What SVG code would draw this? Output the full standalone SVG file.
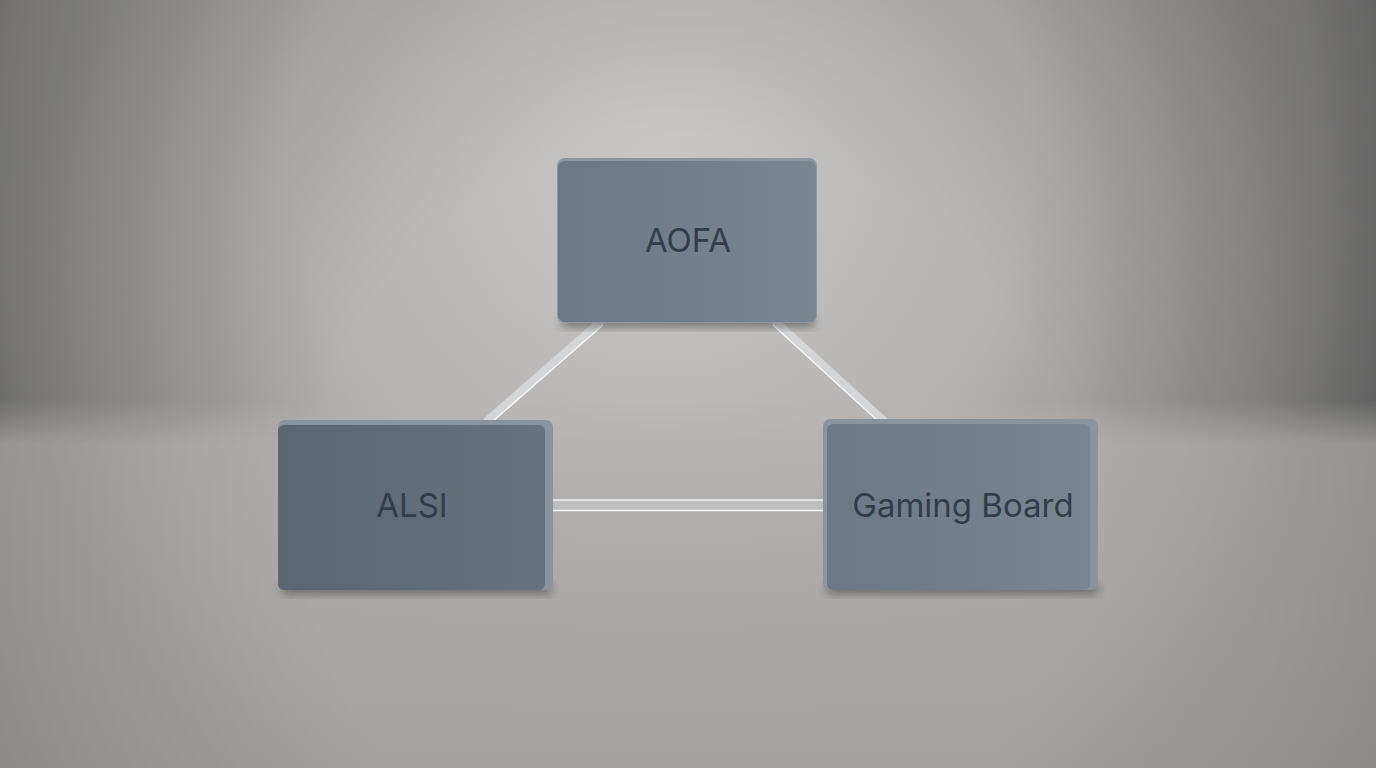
<svg xmlns="http://www.w3.org/2000/svg" width="1376" height="768" viewBox="0 0 1376 768">
<defs>
<radialGradient id="bg" cx="660" cy="160" r="820" gradientUnits="userSpaceOnUse">
<stop offset="0" stop-color="#c9c8c6"/>
<stop offset="0.45" stop-color="#b4b3b1"/>
<stop offset="0.8" stop-color="#8a8988"/>
<stop offset="1" stop-color="#5e5e5e"/>
</radialGradient>
<linearGradient id="floor" x1="0" y1="400" x2="0" y2="768" gradientUnits="userSpaceOnUse">
<stop offset="0" stop-color="#b5b4b2" stop-opacity="0.0"/>
<stop offset="0.12" stop-color="#b3b2b0" stop-opacity="0.85"/>
<stop offset="1" stop-color="#a3a2a0" stop-opacity="1"/>
</linearGradient>
<radialGradient id="floorside" cx="688" cy="520" r="760" gradientUnits="userSpaceOnUse">
<stop offset="0.5" stop-color="#000" stop-opacity="0"/>
<stop offset="1" stop-color="#000" stop-opacity="0.15"/>
</radialGradient>
<linearGradient id="faceD" x1="0" y1="0" x2="1" y2="0">
<stop offset="0" stop-color="#5c6671"/>
<stop offset="1" stop-color="#68727d"/>
</linearGradient>
<linearGradient id="faceR" x1="0" y1="0" x2="1" y2="0">
<stop offset="0" stop-color="#6d7884"/>
<stop offset="1" stop-color="#7b8590"/>
</linearGradient>
<filter id="shadow" x="-20%" y="-50%" width="140%" height="200%">
<feGaussianBlur stdDeviation="5"/>
</filter>
<style>
.lbl{font-family:"Inter","Liberation Sans",sans-serif;font-size:33px;font-weight:400;fill:#333c47;text-anchor:middle;dominant-baseline:central}
.tube{stroke:#d6d8da;stroke-width:8;stroke-linecap:round;fill:none;opacity:0.9}
.tubehl{stroke:#f4f6f7;stroke-width:1.5;fill:none}
.side{fill:#8a949d}
.shad{fill:#262626;opacity:0.5}
</style>
</defs>
<rect width="1376" height="768" fill="url(#bg)"/>
<rect y="400" width="1376" height="368" fill="url(#floor)"/>
<rect width="1376" height="768" fill="url(#floorside)"/>

<g id="connectors">
<line class="tube" x1="600" y1="322" x2="487" y2="421"/>
<line class="tubehl" x1="603" y1="325" x2="492" y2="422"/>
<line class="tube" x1="776" y1="322" x2="884" y2="421"/>
<line class="tubehl" x1="773" y1="325" x2="879" y2="422"/>
<rect x="552" y="500" width="274" height="11" fill="#d8dadc" opacity="0.35"/>
<line x1="552" y1="500" x2="826" y2="500" stroke="#eef0f1" stroke-width="1.5"/>
<line x1="552" y1="510.5" x2="826" y2="510.5" stroke="#f4f5f6" stroke-width="1.5"/>
</g>

<g id="node-aofa">
<rect x="561" y="317" width="254" height="10" rx="5" class="shad" filter="url(#shadow)"/>
<rect x="557" y="158" width="260" height="165" rx="8" fill="#8c96a0"/>
<rect x="558" y="161" width="258" height="161" rx="7" fill="url(#faceR)"/>
<text class="lbl" x="688" y="240">AOFA</text>
</g>

<g id="node-alsi">
<rect x="282" y="584" width="270" height="10" rx="5" class="shad" filter="url(#shadow)"/>
<rect x="278" y="420" width="275" height="170" rx="7" class="side"/>
<rect x="278" y="425" width="267" height="165" rx="6" fill="url(#faceD)"/>
<text class="lbl" x="412" y="505">ALSI</text>
</g>

<g id="node-gaming">
<rect x="826" y="584" width="272" height="10" rx="5" class="shad" filter="url(#shadow)"/>
<rect x="823" y="419" width="275" height="171" rx="7" class="side"/>
<rect x="827" y="424" width="263" height="166" rx="6" fill="url(#faceR)"/>
<text class="lbl" x="963" y="505">Gaming Board</text>
</g>
</svg>
